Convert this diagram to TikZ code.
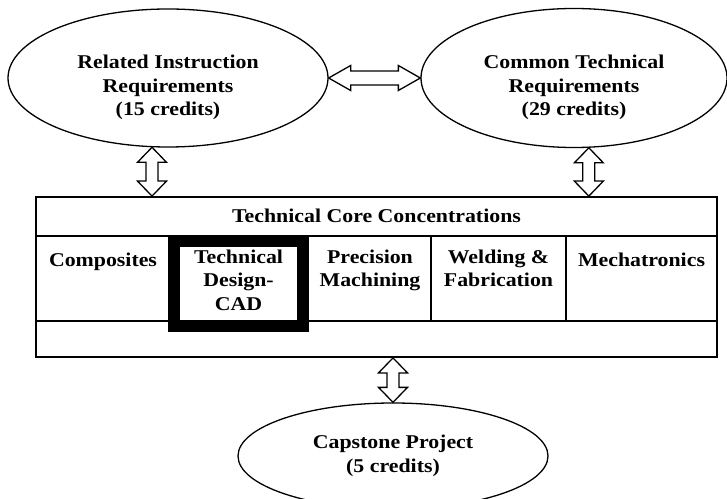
\documentclass[tikz,border=0pt]{standalone}
\usepackage{fontspec}
\setmainfont{Liberation Serif}[FakeStretch=1.12]
\usepackage{tikz}
\usetikzlibrary{calc}
\usetikzlibrary{shapes.geometric}

\tikzset{
	headl/.store in=\dahl, headw/.store in=\dahw, shaftw/.store in=\dasw,
	headl=15pt, headw=14.5pt, shaftw=6pt,
	dblarrow/.style={draw, line width=1.3pt, fill=white,
		to path={
			-- ($(\tikztostart)!\dahl!(\tikztotarget)!\dahw!90:(\tikztotarget)$)
			-- ($(\tikztostart)!\dahl!(\tikztotarget)!\dasw!90:(\tikztotarget)$)
			-- ($(\tikztotarget)!\dahl!(\tikztostart)!\dasw!-90:(\tikztostart)$)
			-- ($(\tikztotarget)!\dahl!(\tikztostart)!\dahw!-90:(\tikztostart)$)
			-- (\tikztotarget)
			-- ($(\tikztotarget)!\dahl!(\tikztostart)!\dahw!90:(\tikztostart)$)
			-- ($(\tikztotarget)!\dahl!(\tikztostart)!\dasw!90:(\tikztostart)$)
			-- ($(\tikztostart)!\dahl!(\tikztotarget)!\dasw!-90:(\tikztotarget)$)
			-- ($(\tikztostart)!\dahl!(\tikztotarget)!\dahw!-90:(\tikztotarget)$)
			-- cycle}},
	req/.style={ellipse, draw, line width=1.3pt, inner sep=0pt, align=center},
	conc/.style={anchor=north, inner sep=0pt, align=center, execute at begin node=\strut},
	tbl/.style={line width=1.8pt}
}

\begin{document}
\begin{tikzpicture}[x=1pt, y=1pt, font=\fontsize{19.5}{23.5}\selectfont\bfseries]
			\useasboundingbox (0,0) rectangle (727,498);
			
			\node[req, minimum width=320pt, minimum height=138pt, text height=80pt] (rir) at (168,420) {Related Instruction\\Requirements\\(15 credits)};
			\node[req, minimum width=306pt, minimum height=139pt, text height=80pt] (ctr) at (574,420) {Common Technical\\Requirements\\(29 credits)};
			
			\node[draw, tbl, minimum width=681pt, minimum height=160pt, inner sep=0pt] (tcc) at (376.5,221) {};
			\node[anchor=base] (tcch) at (376.5,275) {Technical Core Concentrations};
			
			\draw[tbl] (36,262) -- (717,262);
			\draw[tbl] (36,177) -- (717,177);
			\draw[tbl] (431,262) -- (431,177);
			\draw[tbl] (566,262) -- (566,177);
			\draw[line width=11.5pt] (174,256.5) rectangle (303,171.5);
			
			\node[conc] (comp) at (103,248.5) {Composites};
			\node[conc] (tdcad) at (238.5,248.5) {Technical\\Design-\\CAD};
			\node[conc] (prec) at (370,248.5) {Precision\\Machining};
			\node[conc] (weld) at (498.5,248.5) {Welding \&\\Fabrication};
			\node[conc] (mech) at (641.5,248.5) {Mechatronics};
			
			\node[req, minimum width=310pt, minimum height=106pt] (cap) at (393,42) {Capstone Project\\(5 credits)};
			
			\coordinate (rirf) at (rir.257 |- tcc.north);
			\coordinate (ctrf) at (ctr.282 |- tcc.north);
			\coordinate (capf) at (cap.north |- tcc.south);
			
			\draw[dblarrow, headl=22pt, headw=12.5pt, shaftw=7pt] (rir.east) to (ctr.west);
			\draw[dblarrow] (rir.257) to (rirf);
			\draw[dblarrow] (ctr.282) to (ctrf);
			\draw[dblarrow] (capf) to (cap.north);
\end{tikzpicture}
\end{document}
